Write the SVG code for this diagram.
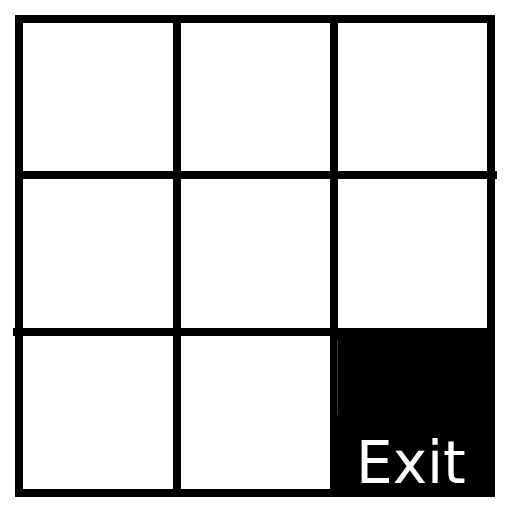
<svg xmlns="http://www.w3.org/2000/svg" width="512" height="512" viewBox="0 0 512 512">
  <style>
    .grid line { stroke: #000; stroke-width: 8; }
    .exit { fill: #000; }
    .label { font-family: "DejaVu Sans", "Liberation Sans", sans-serif; font-size: 58px; fill: #fff; }
  </style>
  <rect width="512" height="512" fill="#fff"/>
  <g id="exit-cell">
    <rect class="exit" x="330" y="328" width="165" height="169"/>
    <line x1="337.5" y1="340" x2="337.5" y2="415" stroke="#3a3a3a" stroke-width="1"/>
    <text class="label" x="356" y="483">Exit</text>
  </g>
  <g id="grid" class="grid">
    <line x1="15" y1="19" x2="495" y2="19"/>
    <line x1="15" y1="175" x2="497" y2="175"/>
    <line x1="13" y1="332" x2="495" y2="332"/>
    <line x1="15" y1="493" x2="495" y2="493"/>
    <line x1="19" y1="15" x2="19" y2="497"/>
    <line x1="177" y1="15" x2="177" y2="497"/>
    <line x1="334" y1="15" x2="334" y2="336"/>
    <line x1="491" y1="15" x2="491" y2="497"/>
  </g>
</svg>
